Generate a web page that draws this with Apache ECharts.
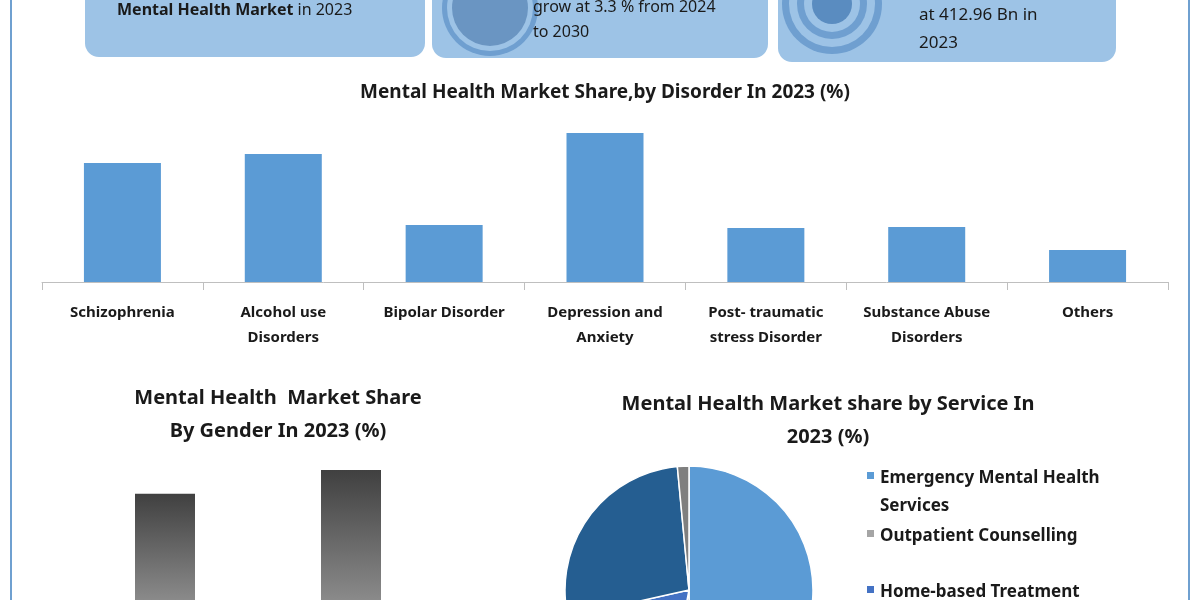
<!DOCTYPE html>
<html>
<head>
<meta charset="utf-8">
<script src="https://cdn.jsdelivr.net/npm/echarts@6/dist/echarts.min.js"></script>
<style>
html, body { margin: 0; padding: 0; background: #fff; }
#main { width: 1200px; height: 600px; }
</style>
</head>
<body>
<div id="main"></div>
<script>
// disorder bar chart
var disorders = ['Schizophrenia', 'Alcohol use\nDisorders', 'Bipolar Disorder', 'Depression and\nAnxiety', 'Post- traumatic\nstress Disorder', 'Substance Abuse\nDisorders', 'Others'];
var disorderShare = [119, 128, 57, 149, 54, 55, 32];

// gender bar chart (axis labels fall below the visible area)
var genders = ['Male', 'Female'];
var genderShare = [45, 55];

// service pie
var services = ['Emergency Mental Health\nServices', 'Outpatient Counselling', 'Home-based Treatment', 'Inpatient Treatment', 'Others'];
var serviceShare = [50, 3, 18.5, 27, 1.5];
var serviceColors = ['#5b9bd5', '#a5a5a5', '#4472c4', '#255e91', '#7f7f7f'];

var font = 'Noto Sans';
var myChart = echarts.init(document.getElementById('main'));

var graphics = [
    {type: 'line', shape: {x1: 11, y1: 0, x2: 11, y2: 600}, style: {stroke: '#6fa0d0', lineWidth: 2}},
    {type: 'line', shape: {x1: 1189, y1: 0, x2: 1189, y2: 600}, style: {stroke: '#6fa0d0', lineWidth: 2}},
    {type: 'rect', shape: {x: 85, y: -30, width: 340, height: 87, r: 14}, style: {fill: '#9dc3e6'}},
    {type: 'rect', shape: {x: 432, y: -30, width: 336, height: 88, r: 14}, style: {fill: '#9dc3e6'}},
    {type: 'rect', shape: {x: 778, y: -30, width: 338, height: 92, r: 14}, style: {fill: '#9dc3e6'}},
    {type: 'circle', shape: {cx: 490, cy: 8, r: 48}, style: {fill: '#6f9fd0'}},
    {type: 'circle', shape: {cx: 490, cy: 8, r: 43}, style: {fill: '#9dc3e6'}},
    {type: 'circle', shape: {cx: 490, cy: 8, r: 38}, style: {fill: '#6a95c2'}},
    {type: 'circle', shape: {cx: 832, cy: 4, r: 50}, style: {fill: '#6f9fd0'}},
    {type: 'circle', shape: {cx: 832, cy: 4, r: 43}, style: {fill: '#9dc3e6'}},
    {type: 'circle', shape: {cx: 832, cy: 4, r: 35}, style: {fill: '#6f9fd0'}},
    {type: 'circle', shape: {cx: 832, cy: 4, r: 28}, style: {fill: '#9dc3e6'}},
    {type: 'circle', shape: {cx: 832, cy: 4, r: 20}, style: {fill: '#5a8cc0'}},
    {type: 'text', left: 117, top: 2, style: {text: '{b|Mental Health Market} in 2023', font: '16px "' + font + '"', fill: '#1a1a1a',
        rich: {b: {fontWeight: 'bold', fontSize: 16, fontFamily: font, fill: '#1a1a1a'}}}},
    {type: 'text', left: 533, top: -5, style: {text: 'grow at 3.3 % from 2024\nto 2030', font: '16px "' + font + '"', fill: '#1a1a1a', lineHeight: 25}},
    {type: 'text', left: 919, top: 1, style: {text: 'at 412.96 Bn in\n2023', font: '17px "' + font + '"', fill: '#1a1a1a', lineHeight: 28}}
];

// custom legend for the pie, built from the service arrays
var legendRows = [476, 534, 590, 646, 702];
services.forEach(function (name, i) {
    graphics.push({type: 'rect', shape: {x: 867, y: legendRows[i] - 4, width: 7, height: 7}, style: {fill: serviceColors[i]}});
    graphics.push({type: 'text', left: 880, top: legendRows[i] - 12, style: {text: name, font: 'bold 17px "' + font + '"', fill: '#1a1a1a', lineHeight: 28}});
});

var option = {
    animation: false,
    backgroundColor: '#ffffff',
    title: [
        {text: 'Mental Health Market Share,by Disorder In 2023 (%)', left: 600, top: 78, textAlign: 'center',
            textStyle: {fontFamily: font, fontSize: 19, fontWeight: 'bold', color: '#1a1a1a'}},
        {text: 'Mental Health  Market Share\nBy Gender In 2023 (%)', left: 273, top: 377, textAlign: 'center',
            textStyle: {fontFamily: font, fontSize: 20, fontWeight: 'bold', color: '#1a1a1a', lineHeight: 33, align: 'center'}},
        {text: 'Mental Health Market share by Service In\n2023 (%)', left: 823, top: 383, textAlign: 'center',
            textStyle: {fontFamily: font, fontSize: 20, fontWeight: 'bold', color: '#1a1a1a', lineHeight: 33, align: 'center'}}
    ],
    grid: [
        {left: 42, right: 32, top: 120, height: 162},
        {left: 72, width: 372, top: 470, height: 210}
    ],
    xAxis: [
        {type: 'category', gridIndex: 0, data: disorders,
            axisLine: {lineStyle: {color: '#bfbfbf'}},
            axisTick: {show: true, length: 8, lineStyle: {color: '#bfbfbf'}},
            axisLabel: {interval: 0, margin: 18, fontFamily: font, fontSize: 15, fontWeight: 'bold', color: '#1a1a1a', lineHeight: 25}},
        {type: 'category', gridIndex: 1, data: genders, axisLine: {show: false}, axisTick: {show: false}, axisLabel: {show: false}}
    ],
    yAxis: [
        {type: 'value', gridIndex: 0, min: 0, max: 162, show: false},
        {type: 'value', gridIndex: 1, min: 0, max: 55, show: false}
    ],
    series: [
        {type: 'bar', xAxisIndex: 0, yAxisIndex: 0, data: disorderShare, barWidth: 77,
            itemStyle: {color: '#5b9bd5'}},
        {type: 'bar', xAxisIndex: 1, yAxisIndex: 1, data: genderShare, barWidth: 60,
            itemStyle: {color: new echarts.graphic.LinearGradient(0, 0, 0, 1, [
                {offset: 0, color: '#404040'}, {offset: 1, color: '#8a8a8a'}])}},
        {type: 'pie', center: [689, 590], radius: 124, startAngle: 90, clockwise: true,
            label: {show: false}, labelLine: {show: false},
            itemStyle: {borderColor: '#ffffff', borderWidth: 1.5},
            data: services.map(function (n, i) {
                return {name: n, value: serviceShare[i], itemStyle: {color: serviceColors[i]}};
            })}
    ],
    graphic: graphics
};
myChart.setOption(option);
</script>
</body>
</html>
